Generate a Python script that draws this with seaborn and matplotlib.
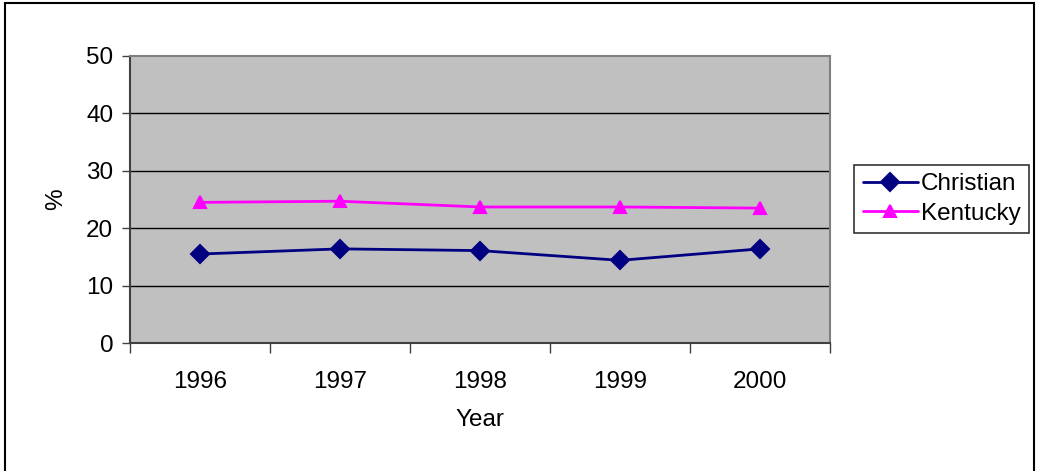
import pandas as pd
import seaborn as sns
import matplotlib.pyplot as plt
from matplotlib.patches import Rectangle
from matplotlib.ticker import FixedLocator

years = ["1996", "1997", "1998", "1999", "2000"]
christian = [15.5, 16.4, 16.1, 14.4, 16.4]
kentucky = [24.5, 24.7, 23.7, 23.7, 23.5]

df = pd.DataFrame({
    "Year": years * 2,
    "pct": christian + kentucky,
    "area": ["Christian"] * 5 + ["Kentucky"] * 5,
})

sns.set_style("white")
plt.rcParams["font.family"] = ["Liberation Sans", "DejaVu Sans"]
plt.rcParams["text.color"] = "black"
plt.rcParams["axes.labelcolor"] = "black"
plt.rcParams["xtick.color"] = "black"
plt.rcParams["ytick.color"] = "black"

fs = 17.5

fig = plt.figure(figsize=(10.39, 4.71), dpi=100)
ax = fig.add_axes([130 / 1039, 1 - 343 / 471, 700 / 1039, 287 / 471])
ax.set_facecolor("#C0C0C0")

sns.pointplot(
    data=df, x="Year", y="pct", hue="area",
    palette={"Christian": "#000080", "Kentucky": "#FF00FF"},
    markers=["D", "^"], linestyles=["-", "-"],
    markersize=9, linewidth=2, errorbar=None, ax=ax,
)

ax.set_ylim(0, 50)
ax.set_xlim(-0.5, 4.5)
ax.set_yticks([0, 10, 20, 30, 40, 50])
for v in [10, 20, 30, 40]:
    ax.axhline(v, color="black", lw=1, zorder=0.5)

ax.xaxis.set_minor_locator(FixedLocator([-0.5, 0.5, 1.5, 2.5, 3.5, 4.5]))
ax.tick_params(axis="x", which="major", bottom=True, length=0, labelsize=fs, pad=20)
ax.tick_params(axis="x", which="minor", bottom=True, length=7, width=1,
               color="#404040", direction="out")
ax.tick_params(axis="y", left=True, length=6, width=1, color="#404040",
               labelsize=fs, pad=6, direction="out")

for s in ["left", "bottom"]:
    ax.spines[s].set_color("#404040")
    ax.spines[s].set_linewidth(1.5)
for s in ["top", "right"]:
    ax.spines[s].set_color("#808080")
    ax.spines[s].set_linewidth(1.5)

ax.set_xlabel("Year", fontsize=fs, labelpad=12)
ax.set_ylabel("%", fontsize=fs, labelpad=14)

handles, labels = ax.get_legend_handles_labels()
ax.get_legend().remove()
leg = fig.legend(
    handles, labels, loc="center left",
    bbox_to_anchor=(854 / 1039, 1 - 199 / 471),
    fontsize=fs, frameon=True, fancybox=False, edgecolor="black",
    handlelength=2.3, handletextpad=0.1, borderpad=0.35, labelspacing=0.3,
    borderaxespad=0,
)
leg.get_frame().set_linewidth(1.2)

fig.patches.append(Rectangle((5 / 1039, -0.05), 1029 / 1039, 1.05 - 3 / 471,
                             transform=fig.transFigure, fill=False,
                             edgecolor="black", lw=1.5))

fig.savefig("out.png", dpi=100)
